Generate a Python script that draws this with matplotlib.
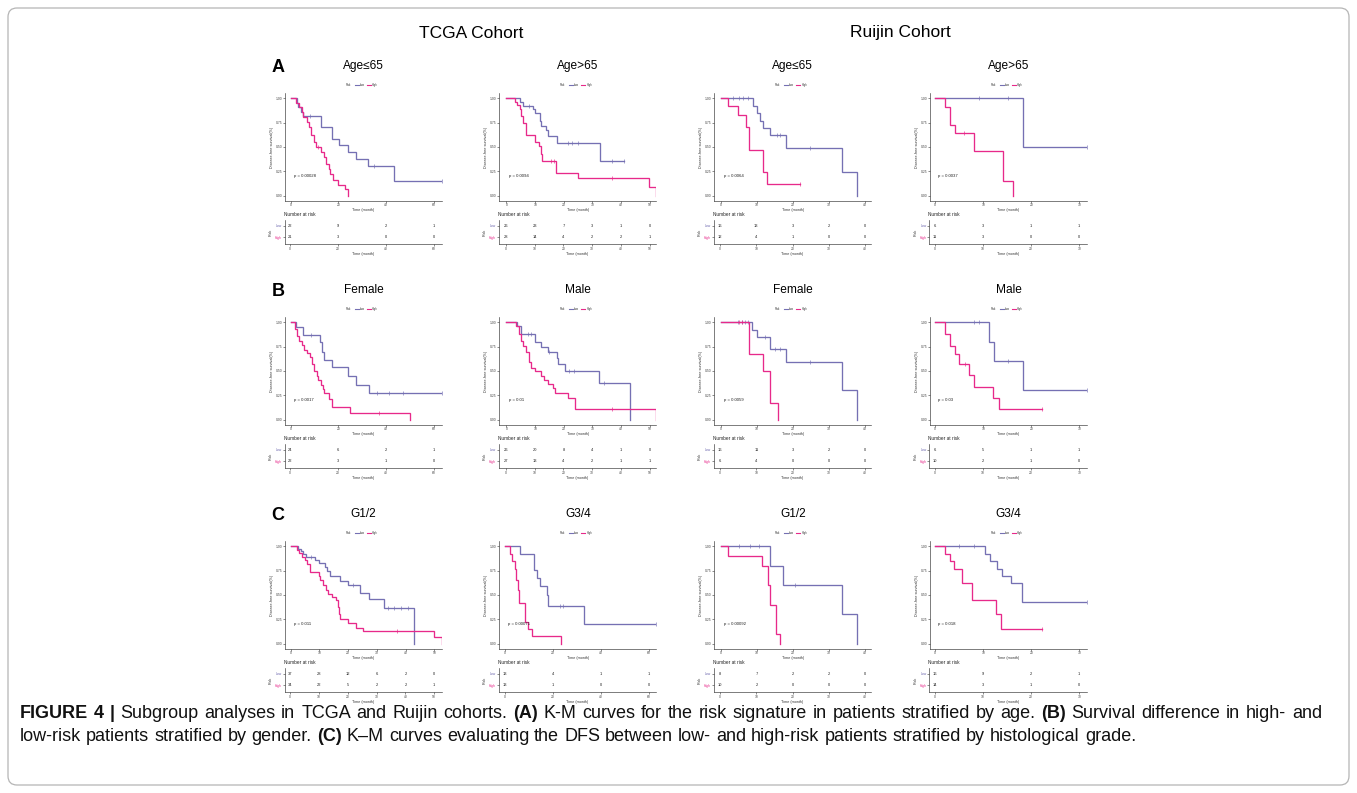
import numpy as np
import matplotlib.pyplot as plt
from matplotlib.patches import FancyBboxPatch
from matplotlib.lines import Line2D
from matplotlib.transforms import IdentityTransform

plt.rcParams['font.family'] = ['Liberation Sans', 'DejaVu Sans']

LOW_COL = '#7570B3'
HIGH_COL = '#E7298A'
INK = '#222222'

W, H = 1357, 793

# ---- survival data (time in months, survival after each event) ----
# Row A: age
a1_low_t = [2.5, 3.2, 4.2, 5.3, 12.7, 17.2, 20.3, 23.9, 27.4, 32.2, 43.2]
a1_low_s = [0.955, 0.91, 0.86, 0.82, 0.71, 0.58, 0.52, 0.445, 0.373, 0.30, 0.154]
a1_low_c = [8.0, 35.0, 63.4]
a1_high_t = [2.2, 3.6, 4.6, 5.3, 6.7, 7.8, 8.5, 9.8, 10.6, 12.6, 14.0, 14.7, 16.0, 16.5, 17.9, 19.7, 22.8, 23.8]
a1_high_s = [0.955, 0.91, 0.86, 0.81, 0.76, 0.71, 0.62, 0.55, 0.50, 0.45, 0.40, 0.33, 0.27, 0.22, 0.16, 0.11, 0.065, 0.0]
a1_high_c = [11.5]
a1_risk_low = [22, 9, 2, 1]
a1_risk_high = [21, 3, 0, 0]

a2_low_t = [4.6, 5.7, 9.2, 10.0, 11.8, 12.2, 13.8, 14.6, 17.8, 32.5]
a2_low_s = [0.96, 0.92, 0.885, 0.85, 0.77, 0.72, 0.67, 0.61, 0.545, 0.36]
a2_low_c = [8.0, 21.5, 23.0, 25.0, 37.0, 41.0]
a2_high_t = [3.1, 3.8, 4.6, 5.2, 5.7, 6.9, 10.0, 11.3, 12.1, 12.4, 17.2, 25.0, 49.7, 52.3]
a2_high_s = [0.96, 0.93, 0.89, 0.82, 0.75, 0.625, 0.55, 0.51, 0.43, 0.36, 0.23, 0.18, 0.09, 0.0]
a2_high_c = [15.5, 16.5, 37.0]
a2_risk_low = [26, 23, 7, 3, 1, 0]
a2_risk_high = [28, 14, 4, 2, 2, 1]

a3_low_t = [9.0, 10.0, 10.9, 11.8, 13.8, 18.0, 33.7, 37.9]
a3_low_s = [0.92, 0.85, 0.77, 0.70, 0.62, 0.49, 0.245, 0.0]
a3_low_c = [3.5, 5.0, 6.2, 7.6, 15.5, 16.5, 24.7]
a3_high_t = [1.9, 4.9, 7.0, 7.8, 11.8, 12.9]
a3_high_s = [0.92, 0.83, 0.71, 0.47, 0.24, 0.12]
a3_high_c = [21.9]
a3_risk_low = [16, 13, 3, 2, 0]
a3_risk_high = [12, 4, 1, 0, 0]

a4_low_t = [18.2]
a4_low_s = [0.50]
a4_low_c = [9.2, 15.1, 31.6]
a4_high_t = [2.0, 3.1, 4.1, 8.1, 14.2, 16.1]
a4_high_s = [0.91, 0.73, 0.64, 0.455, 0.155, 0.0]
a4_high_c = [6.0]
a4_risk_low = [6, 3, 1, 1]
a4_risk_high = [11, 3, 0, 0]

# Row B: gender
b1_low_t = [2.2, 5.3, 12.2, 13.0, 14.0, 17.2, 24.2, 27.4, 32.6]
b1_low_s = [0.955, 0.87, 0.80, 0.70, 0.61, 0.54, 0.45, 0.36, 0.27]
b1_low_c = [8.5, 36.0, 41.0, 47.0, 63.4]
b1_high_t = [1.8, 2.8, 3.6, 4.6, 5.6, 6.7, 8.1, 9.1, 9.9, 10.9, 11.6, 12.6, 13.4, 14.0, 16.2, 17.2, 24.9, 50.0]
b1_high_s = [0.93, 0.86, 0.81, 0.77, 0.72, 0.68, 0.64, 0.57, 0.50, 0.45, 0.41, 0.36, 0.32, 0.27, 0.21, 0.13, 0.065, 0.0]
b1_high_c = [37.0]
b1_risk_low = [24, 6, 2, 1]
b1_risk_high = [22, 3, 1, 0]

b2_low_t = [3.8, 5.2, 10.0, 12.1, 14.6, 17.6, 18.0, 20.3, 32.2, 43.1]
b2_low_s = [0.96, 0.88, 0.80, 0.75, 0.70, 0.63, 0.57, 0.50, 0.375, 0.0]
b2_low_c = [7.5, 8.6, 15.0, 22.0, 23.5, 34.0]
b2_high_t = [3.4, 4.3, 5.2, 5.7, 6.9, 8.0, 8.6, 10.0, 12.1, 13.0, 14.6, 16.1, 16.9, 21.5, 23.8, 52.3]
b2_high_s = [0.96, 0.88, 0.81, 0.76, 0.69, 0.59, 0.53, 0.50, 0.45, 0.41, 0.37, 0.33, 0.27, 0.22, 0.105, 0.0]
b2_high_c = [37.0]
b2_risk_low = [26, 20, 8, 4, 1, 0]
b2_risk_high = [27, 13, 4, 2, 1, 1]

b3_low_t = [8.8, 10.0, 13.8, 18.0, 33.7, 37.9]
b3_low_s = [0.92, 0.85, 0.73, 0.59, 0.30, 0.0]
b3_low_c = [4.9, 5.8, 6.7, 7.6, 12.3, 15.0, 16.4, 24.7]
b3_high_t = [7.9, 11.8, 13.8, 16.0]
b3_high_s = [0.67, 0.50, 0.17, 0.0]
b3_high_c = [5.0, 6.0]
b3_risk_low = [16, 11, 3, 2, 0]
b3_risk_high = [6, 4, 0, 0, 0]

b4_low_t = [11.1, 12.2, 18.2]
b4_low_s = [0.80, 0.60, 0.30]
b4_low_c = [8.1, 9.1, 15.1, 31.6]
b4_high_t = [2.0, 3.1, 4.1, 5.0, 7.1, 8.1, 12.1, 13.2]
b4_high_s = [0.88, 0.755, 0.67, 0.575, 0.46, 0.34, 0.22, 0.11]
b4_high_c = [6.2, 22.2]
b4_risk_low = [6, 5, 1, 1]
b4_risk_high = [10, 2, 1, 0]

# Row C: histological grade
c1_low_t = [2.7, 3.5, 4.4, 5.3, 8.5, 9.7, 12.0, 12.6, 13.7, 17.2, 20.1, 24.2, 27.1, 32.6, 43.0]
c1_low_s = [0.97, 0.95, 0.92, 0.89, 0.86, 0.83, 0.79, 0.75, 0.70, 0.64, 0.60, 0.52, 0.46, 0.37, 0.0]
c1_low_c = [7.0, 21.8, 34.0, 36.0, 38.5, 41.0]
c1_high_t = [2.1, 3.0, 3.8, 5.0, 5.6, 6.7, 9.7, 10.2, 11.4, 12.3, 13.1, 14.3, 15.8, 16.3, 16.9, 17.2, 19.8, 22.8, 25.1, 49.8, 52.7]
c1_high_s = [0.96, 0.93, 0.89, 0.86, 0.82, 0.74, 0.70, 0.65, 0.60, 0.55, 0.51, 0.48, 0.45, 0.38, 0.31, 0.25, 0.21, 0.16, 0.13, 0.07, 0.0]
c1_high_c = [37.0]
c1_risk_low = [37, 28, 12, 6, 2, 0]
c1_risk_high = [34, 22, 5, 2, 2, 1]

c2_low_t = [6.2, 12.0, 13.2, 14.5, 17.3, 18.0, 32.8]
c2_low_s = [0.92, 0.76, 0.67, 0.59, 0.50, 0.39, 0.20]
c2_low_c = [22.8, 24.2, 63.1]
c2_high_t = [2.1, 3.0, 4.0, 4.6, 5.3, 6.0, 8.4, 9.7, 11.1, 23.5]
c2_high_s = [0.92, 0.85, 0.77, 0.65, 0.55, 0.42, 0.22, 0.15, 0.08, 0.0]
c2_high_c = []
c2_risk_low = [13, 4, 1, 1]
c2_risk_high = [13, 1, 0, 0]

c3_low_t = [13.8, 17.2, 33.6, 37.9]
c3_low_s = [0.80, 0.60, 0.30, 0.0]
c3_low_c = [5.0, 8.0, 10.5, 20.5]
c3_high_t = [2.0, 11.4, 13.0, 13.6, 15.3, 16.4]
c3_high_s = [0.90, 0.80, 0.60, 0.40, 0.10, 0.0]
c3_high_c = []
c3_risk_low = [8, 7, 2, 2, 0]
c3_risk_high = [10, 2, 0, 0, 0]

c4_low_t = [10.4, 11.5, 12.9, 14.0, 15.7, 18.1]
c4_low_s = [0.92, 0.85, 0.77, 0.69, 0.62, 0.43]
c4_low_c = [5.0, 8.0, 31.6]
c4_high_t = [2.0, 3.0, 4.0, 5.5, 7.6, 12.7, 13.6]
c4_high_s = [0.92, 0.85, 0.77, 0.62, 0.45, 0.30, 0.15]
c4_high_c = [22.3]
c4_risk_low = [16, 9, 2, 1]
c4_risk_high = [14, 3, 1, 0]

titles = ['Age≤65', 'Age>65', 'Age≤65', 'Age>65',
          'Female', 'Male', 'Female', 'Male',
          'G1/2', 'G3/4', 'G1/2', 'G3/4']
pvals = ['p = 0.00028', 'p = 0.0094', 'p = 0.0064', 'p = 0.0037',
         'p = 0.0017', 'p = 0.01', 'p = 0.0059', 'p = 0.03',
         'p = 0.011', 'p = 0.00071', 'p = 0.00092', 'p = 0.018']
xticks = [[0, 20, 40, 60], [0, 10, 20, 30, 40, 50], [0, 10, 20, 30, 40], [0, 10, 20, 30],
          [0, 20, 40, 60], [0, 10, 20, 30, 40, 50], [0, 10, 20, 30, 40], [0, 10, 20, 30],
          [0, 10, 20, 30, 40, 50], [0, 20, 40, 60], [0, 10, 20, 30, 40], [0, 10, 20, 30]]
xlims = [(-2.4, 63.4), (-2.5, 52.3), (-1.8, 41.8), (-1.1, 31.6),
         (-2.4, 63.4), (-2.5, 52.3), (-1.8, 41.8), (-1.1, 31.6),
         (-2.0, 52.7), (-2.4, 63.1), (-1.8, 41.8), (-1.1, 31.6)]

curves = [
    (a1_low_t, a1_low_s, a1_low_c, a1_high_t, a1_high_s, a1_high_c, a1_risk_low, a1_risk_high),
    (a2_low_t, a2_low_s, a2_low_c, a2_high_t, a2_high_s, a2_high_c, a2_risk_low, a2_risk_high),
    (a3_low_t, a3_low_s, a3_low_c, a3_high_t, a3_high_s, a3_high_c, a3_risk_low, a3_risk_high),
    (a4_low_t, a4_low_s, a4_low_c, a4_high_t, a4_high_s, a4_high_c, a4_risk_low, a4_risk_high),
    (b1_low_t, b1_low_s, b1_low_c, b1_high_t, b1_high_s, b1_high_c, b1_risk_low, b1_risk_high),
    (b2_low_t, b2_low_s, b2_low_c, b2_high_t, b2_high_s, b2_high_c, b2_risk_low, b2_risk_high),
    (b3_low_t, b3_low_s, b3_low_c, b3_high_t, b3_high_s, b3_high_c, b3_risk_low, b3_risk_high),
    (b4_low_t, b4_low_s, b4_low_c, b4_high_t, b4_high_s, b4_high_c, b4_risk_low, b4_risk_high),
    (c1_low_t, c1_low_s, c1_low_c, c1_high_t, c1_high_s, c1_high_c, c1_risk_low, c1_risk_high),
    (c2_low_t, c2_low_s, c2_low_c, c2_high_t, c2_high_s, c2_high_c, c2_risk_low, c2_risk_high),
    (c3_low_t, c3_low_s, c3_low_c, c3_high_t, c3_high_s, c3_high_c, c3_risk_low, c3_risk_high),
    (c4_low_t, c4_low_s, c4_low_c, c4_high_t, c4_high_s, c4_high_c, c4_risk_low, c4_risk_high),
]

caption_1 = ('**FIGURE 4 |** Subgroup analyses in TCGA and Ruijin cohorts. **(A)** K-M curves for the '
             'risk signature in patients stratified by age. **(B)** Survival difference in high- and')
caption_2 = ('low-risk patients stratified by gender. **(C)** K\u2013M curves evaluating the DFS between '
             'low- and high-risk patients stratified by histological grade.')

# ---- layout (pixels) ----
col_left = [285, 499.3, 714.3, 930]
row_off = [0, 224, 448]
km_w, km_top, km_h = 157, 93.4, 107.2
rt_top, rt_h = 220, 24

TICK_FS = 2.4
LAB_FS = 2.7
NR_FS = 3.4
CAP_FS = 13


def fx(x):
    return x / W


def fy(y):
    return 1 - y / H


def rect(left, top, width, height):
    return [fx(left), fy(top + height), width / W, height / H]


def step_xy(t, s, c):
    end = max(list(t) + list(c))
    return [0] + list(t) + [end], [1] + list(s) + [s[-1]]


def surv_at(t, s, x):
    idx = np.searchsorted(t, x, side='right')
    return ([1] + list(s))[idx]


def style_axis(ax):
    for side in ['top', 'right']:
        ax.spines[side].set_visible(False)
    for side in ['left', 'bottom']:
        ax.spines[side].set_linewidth(0.45)
        ax.spines[side].set_color('#333333')
    ax.tick_params(length=1.2, width=0.4, pad=0.8, labelsize=TICK_FS,
                   colors='#333333', labelcolor='#444444')
    ax.patch.set_alpha(0)


fig = plt.figure(figsize=(W / 100, H / 100), dpi=100)

for i, (lt, ls, lc, ht, hs, hc, rl, rh) in enumerate(curves):
    r, c = divmod(i, 4)
    left = col_left[c]
    top = km_top + row_off[r]
    cx = left + km_w / 2

    ax = fig.add_axes(rect(left, top, km_w, km_h))
    for t, s, cens, col in [(lt, ls, lc, LOW_COL), (ht, hs, hc, HIGH_COL)]:
        xs, ys = step_xy(t, s, cens)
        ax.step(xs, ys, where='post', color=col, lw=0.95, solid_joinstyle='miter')
        if cens:
            ax.plot(cens, [surv_at(t, s, x) for x in cens], ls='none', marker='|',
                    color=col, ms=2.4, mew=0.45)
    ax.set_xlim(*xlims[i])
    ax.set_ylim(-0.05, 1.05)
    ax.set_xticks(xticks[i])
    ax.set_yticks([0, 0.25, 0.5, 0.75, 1.0])
    ax.set_yticklabels(['0.00', '0.25', '0.50', '0.75', '1.00'])
    style_axis(ax)
    ax.set_xlabel('Time (month)', fontsize=LAB_FS, labelpad=0.6, color='#333333')
    ax.set_ylabel('Disease-free survival(%)', fontsize=LAB_FS, labelpad=1.5, color='#333333')
    ax.text(xlims[i][1] * 0.02, 0.2, pvals[i], fontsize=3.1, ha='left', va='center', color=INK)

    # legend strip above the curves
    ly = 85 + row_off[r]
    fig.text(fx(cx - 18), fy(ly), 'Risk', fontsize=2.0, ha='left', va='center', color='#333333')
    fig.add_artist(Line2D([fx(cx - 9), fx(cx - 5)], [fy(ly)] * 2, color=LOW_COL, lw=0.8))
    fig.text(fx(cx - 4), fy(ly), 'Low', fontsize=2.0, ha='left', va='center', color='#333333')
    fig.add_artist(Line2D([fx(cx + 3.5), fx(cx + 7.5)], [fy(ly)] * 2, color=HIGH_COL, lw=0.8))
    fig.text(fx(cx + 8.5), fy(ly), 'High', fontsize=2.0, ha='left', va='center', color='#333333')

    # subgroup title
    fig.text(fx(cx), fy(66 + row_off[r]), titles[i], fontsize=8.6, ha='center', va='center')

    # number-at-risk table
    rax = fig.add_axes(rect(left - 0.5, rt_top + row_off[r], km_w + 0.5, rt_h))
    rax.set_xlim(*xlims[i])
    rax.set_ylim(0.4, 2.5)
    for x, n in zip(xticks[i], rl):
        rax.text(x, 2, str(n), fontsize=2.9, ha='center', va='center', color=INK)
    for x, n in zip(xticks[i], rh):
        rax.text(x, 1, str(n), fontsize=2.9, ha='center', va='center', color=INK)
    rax.set_xticks(xticks[i])
    rax.set_yticks([2, 1])
    rax.set_yticklabels(['Low', 'High'])
    style_axis(rax)
    rax.get_yticklabels()[0].set_color(LOW_COL)
    rax.get_yticklabels()[1].set_color(HIGH_COL)
    rax.set_xlabel('Time (month)', fontsize=LAB_FS, labelpad=0.6, color='#333333')
    rax.set_ylabel('Risk', fontsize=LAB_FS, labelpad=1.5, color='#333333')
    fig.text(fx(left - 1.5), fy(215 + row_off[r]), 'Number at risk', fontsize=NR_FS,
             ha='left', va='center', color=INK)

# panel letters and cohort headers
for r, letter in enumerate('ABC'):
    fig.text(fx(278), fy(67 + row_off[r]), letter, fontsize=13, fontweight='bold',
             ha='center', va='center')
fig.text(fx(471), fy(33), 'TCGA Cohort', fontsize=12.5, ha='center', va='center')
fig.text(fx(900), fy(33), 'Ruijin Cohort', fontsize=12.5, ha='center', va='center')

# frame round the figure and its caption
frame = FancyBboxPatch((8, H - 785), 1341, 777, boxstyle='round,pad=0,rounding_size=9',
                       transform=IdentityTransform(), fill=False, ec='#b5b5b5', lw=0.9)
fig.add_artist(frame)

renderer = fig.canvas.get_renderer()


def text_width(s, weight='normal'):
    t = fig.text(0, 0, s, fontsize=CAP_FS, fontweight=weight)
    w = t.get_window_extent(renderer=renderer).width
    t.remove()
    return w


def caption_line(text, x0, baseline, width=None):
    # words wrapped in ** ** are bold; a width justifies the line to that length
    words = []
    bold = False
    for chunk in text.split(' '):
        if chunk.startswith('**'):
            bold = True
        words.append((chunk.strip('*'), 'bold' if bold else 'normal'))
        if chunk.endswith('**'):
            bold = False
    widths = [text_width(w, wt) for w, wt in words]
    gap = text_width('a a') - text_width('aa')
    if width is not None:
        gap = max(gap, (width - sum(widths)) / (len(words) - 1))
    x = x0
    for (w, wt), wd in zip(words, widths):
        fig.text(fx(x), fy(baseline), w, fontsize=CAP_FS, fontweight=wt,
                 ha='left', va='baseline', color='#111111')
        x += wd + gap


caption_line(caption_1, 20, 718, width=1302)
caption_line(caption_2, 20, 741)

fig.savefig('out.png', dpi=100)
